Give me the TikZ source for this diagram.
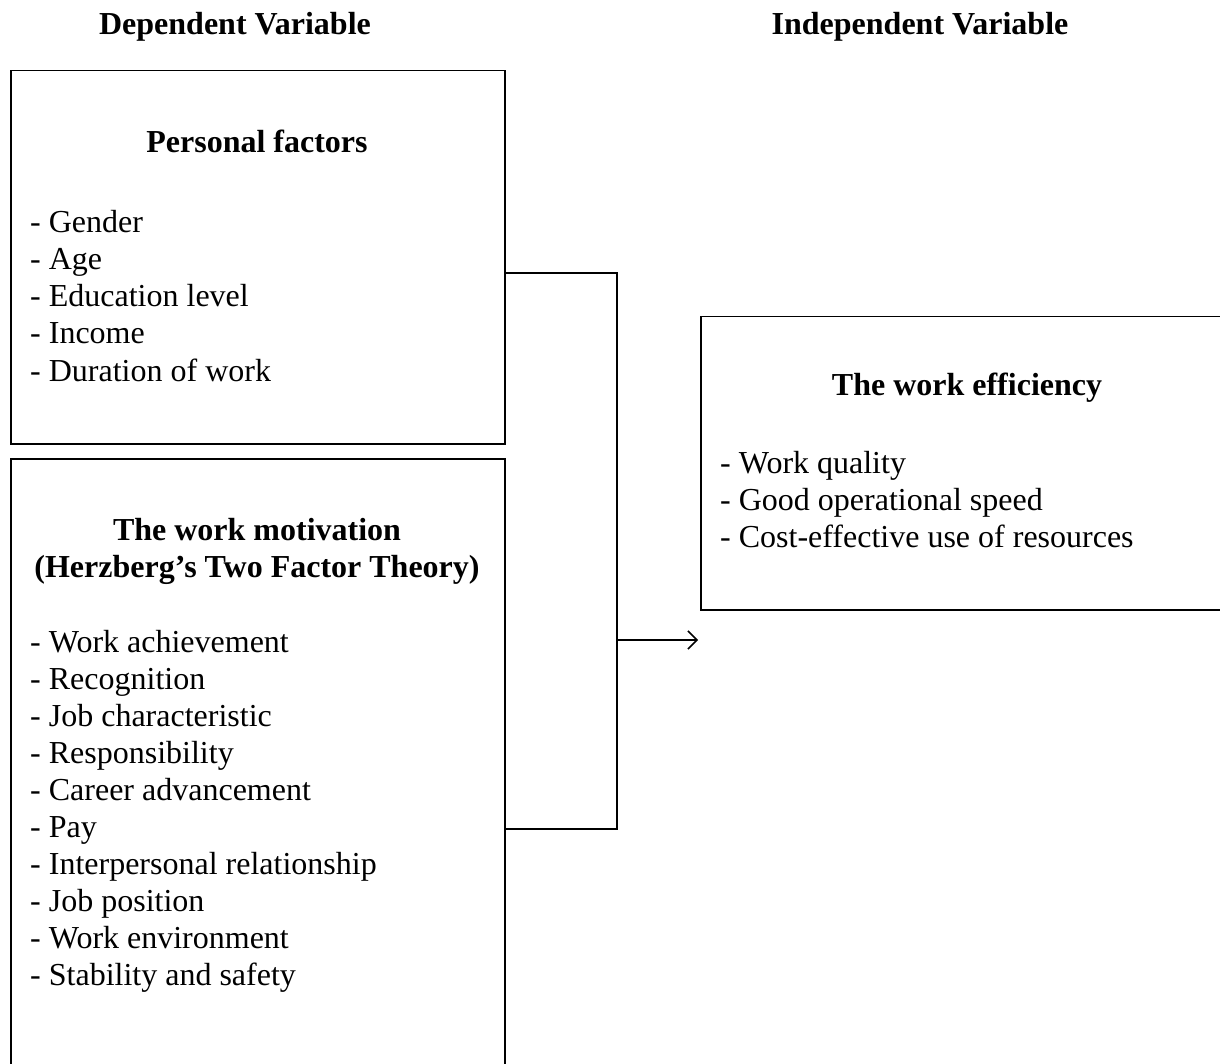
\documentclass[tikz,border=0pt]{standalone}
\usepackage{fontspec}
\setmainfont{Liberation Serif}
\usetikzlibrary{arrows.meta}
\begin{document}
\begin{tikzpicture}[x=1pt,y=-1pt,
  box/.style={draw, line width=1.5pt, anchor=north west, inner sep=0pt},
  txt/.style={inner sep=0pt, font=\fontsize{32}{36.8}\selectfont},
  ttl/.style={inner sep=0pt, font=\fontsize{32}{36.8}\selectfont\bfseries, anchor=base},
  item/.style={txt, anchor=base west},
  link/.style={line width=1.5pt}]
\useasboundingbox (0,0) rectangle (1220,1064);
% headers
\node[ttl] (hd) at (235,35) {Dependent Variable};
\node[ttl] (hi) at (920,35) {Independent Variable};
% boxes
\node[box, minimum width=494pt, minimum height=373pt] (pf) at (10,70) {};
\node[box, minimum width=494pt, minimum height=700pt] (mo) at (10,458) {};
\node[box, minimum width=560pt, minimum height=293pt] (ef) at (700,316) {};
% personal factors
\node[ttl] (pft) at (257,153) {Personal factors};
\foreach \t [count=\i from 0] in {Gender,Age,Education level,Income,Duration of work}
  \node[item] (pf\i) at (30,233+37*\i) {- \t};
% motivation
\node[ttl] (mot1) at (257,540) {The work motivation};
\node[ttl] (mot2) at (257,577) {(Herzberg’s Two Factor Theory)};
\foreach \t [count=\i from 0] in {Work achievement,Recognition,Job characteristic,Responsibility,Career advancement,Pay,Interpersonal relationship,Job position,Work environment,Stability and safety}
  \node[item] (mo\i) at (30,652+37*\i) {- \t};
% efficiency
\node[ttl] (eft) at (967,395) {The work efficiency};
\foreach \t [count=\i from 0] in {Work quality,Good operational speed,Cost-effective use of resources}
  \node[item] (ef\i) at (720,473+37*\i) {- \t};
% connectors
\coordinate (r1) at (617,273);
\coordinate (r2) at (617,829);
\coordinate (ar) at (617,640);
\draw[link] (pf.east |- r1) -- (r1) -- (r2) -- (mo.east |- r2);
\draw[link, -{Straight Barb[length=9pt,width=18pt]}, shorten >=2pt] (ar) -- (ef.west |- ar);
\end{tikzpicture}
\end{document}
